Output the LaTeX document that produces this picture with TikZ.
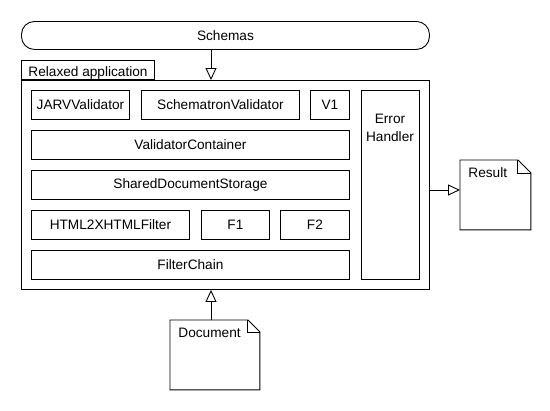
\documentclass[tikz,border=0pt]{standalone}
\usepackage{fontspec}
\setmainfont{Liberation Sans}
\usetikzlibrary{arrows.meta}
\begin{document}
\begin{tikzpicture}[x=1bp,y=-1bp,line width=0.9bp,
  every node/.style={font=\fontsize{13.7}{16}\selectfont, inner sep=0pt},
  box/.style={draw, anchor=north west},
  arr/.style={-{Triangle[open,length=12bp,width=11bp]}}]
\useasboundingbox (0,0) rectangle (550,410);
% Schemas
\node[box, rounded corners=13bp, minimum width=408bp, minimum height=28bp] (schemas) at (21,21) {Schemas};
% frame + tab
\node[box, minimum width=408bp, minimum height=209bp] (frame) at (21,80) {};
\node[box, minimum width=133bp, minimum height=19bp, anchor=south west] (tab) at (21,80) {};
\node[anchor=base west] (tabtext) at (28,76) {Relaxed application};
% inner boxes
\node[box, minimum width=98bp, minimum height=29bp] (jarv) at (31,90) {JARVValidator};
\node[box, minimum width=158bp, minimum height=29bp] (sch) at (141,90) {SchematronValidator};
\node[box, minimum width=39bp, minimum height=29bp] (v1) at (310,90) {V1};
\node[box, minimum width=58bp, minimum height=189bp] (eh) at (361,90) {};
\node[align=center, font=\fontsize{13.7}{18}\selectfont] (ehtext) at (390,128) {Error\\Handler};
\node[box, minimum width=318bp, minimum height=29bp] (vc) at (31,130) {ValidatorContainer};
\node[box, minimum width=318bp, minimum height=29bp] (sds) at (31,170) {SharedDocumentStorage};
\node[box, minimum width=158bp, minimum height=29bp] (html) at (31,210) {HTML2XHTMLFilter};
\node[box, minimum width=68bp, minimum height=29bp] (f1) at (201,210) {F1};
\node[box, minimum width=69bp, minimum height=29bp] (f2) at (280,210) {F2};
\node[box, minimum width=318bp, minimum height=29bp] (fc) at (31,250) {FilterChain};
% Result document
\node[anchor=north west, minimum width=70bp, minimum height=69bp] (res) at (460,160) {};
\draw (res.north west) -- ([xshift=-13bp]res.north east) -- ([yshift=-13bp]res.north east) -- (res.south east) -- (res.south west) -- cycle;
\draw ([xshift=-13bp]res.north east) |- ([yshift=-13bp]res.north east);
\node[anchor=base west] (restext) at (468,177) {Result};
% Document
\node[anchor=north west, minimum width=89bp, minimum height=69bp] (doc) at (170,320) {};
\draw (doc.north west) -- ([xshift=-12bp]doc.north east) -- ([yshift=-12bp]doc.north east) -- (doc.south east) -- (doc.south west) -- cycle;
\draw ([xshift=-12bp]doc.north east) |- ([yshift=-12bp]doc.north east);
\node[anchor=base west] (doctext) at (178,337) {Document};
% connectors
\coordinate (s1) at (211,49);
\draw[arr] (s1) -- (s1 |- frame.north);
\coordinate (r1) at (429,190);
\draw[arr] (r1) -- (r1 -| res.west);
\coordinate (d1) at (211,320);
\draw[arr] (d1) -- (d1 |- frame.south);
\end{tikzpicture}
\end{document}
